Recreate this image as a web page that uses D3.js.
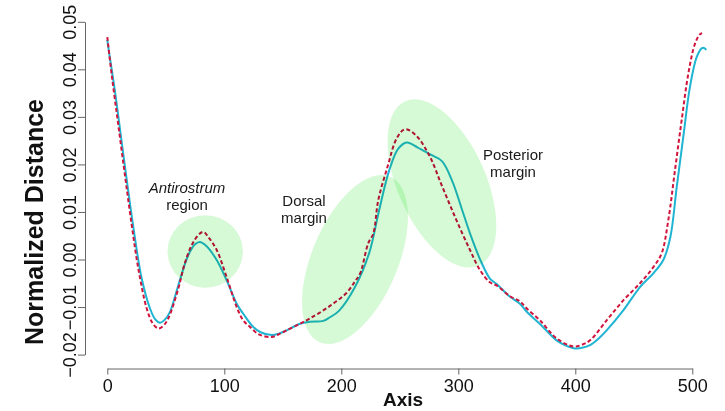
<!DOCTYPE html>
<html>
<head>
<meta charset="utf-8">
<script src="https://cdn.jsdelivr.net/npm/d3@7"></script>
<style>
  body { margin: 0; background: #fff; }
  svg text { font-family: "Liberation Sans", Arial, Helvetica, sans-serif; }
</style>
</head>
<body>
<svg id="chart" width="725" height="411"></svg>
<script>
// Solid (cyan) outline profile: axis position, normalized distance
const solidX = [0, 1, 6.6, 12.3, 18, 23.7, 29.4, 36.5, 41, 45, 49, 53.6, 60.7, 69.2, 75, 79, 84, 93.5, 102, 110.6,
  116.2, 124.8, 131, 140.5, 147.6, 153.3, 164.7, 173.2, 184.6, 190, 198, 211.7, 224, 232, 241, 248.7, 255.9, 265,
  276, 286, 295, 302.5, 311, 318.5, 327, 333, 344, 352.7, 358.5, 370, 384, 392, 400, 406.8, 412.6, 420, 426.8,
  441, 455.3, 466.7, 475.2, 481.3, 486.7, 492.3, 498, 503.8, 508, 510, 512];
const solidY = [0.0462, 0.0444, 0.0353, 0.0247, 0.0142, 0.0044, -0.0040, -0.0103, -0.0126, -0.0133, -0.0127, -0.0110,
  -0.0054, 0.0009, 0.0032, 0.0037, 0.0030, -0.0001, -0.0044, -0.0093, -0.0114, -0.0142, -0.0153, -0.0159, -0.0155,
  -0.0149, -0.0135, -0.0131, -0.0129, -0.0122, -0.0108, -0.0058, 0.0015, 0.0100, 0.0188, 0.0233, 0.0246, 0.0236,
  0.0221, 0.0207, 0.0164, 0.0110, 0.0048, 0.0001, -0.0040, -0.0052, -0.0078, -0.0093, -0.0110, -0.0136, -0.0170,
  -0.0181, -0.0187, -0.0185, -0.0180, -0.0166, -0.0149, -0.0107, -0.0058, -0.0029, -0.0001, 0.0048, 0.0153, 0.0258,
  0.0363, 0.0426, 0.0444, 0.0445, 0.0441];

// Dashed (red) outline profile
const dashX = [0, 3.8, 9.4, 15.1, 20.9, 26.5, 33.7, 39, 43.6, 48, 52.1, 60.7, 66, 72.1, 78, 82.1, 87, 93.5, 102,
  110.6, 116.2, 122, 130, 140.5, 147.6, 153.3, 164.7, 173.2, 184.6, 194.6, 204.6, 211.7, 216, 223, 227.4, 231.6,
  239.5, 247.4, 254.4, 263.5, 275, 286, 298, 310, 318.5, 327, 333, 344, 352.7, 358.5, 369.8, 384.1, 398.3, 405,
  412.6, 426.8, 441, 455.3, 466.7, 473.8, 479.5, 485.2, 490.9, 496.6, 502.3, 506.6, 508.4];
const dashY = [0.0468, 0.0388, 0.0283, 0.0177, 0.0072, -0.0019, -0.0103, -0.0135, -0.0145, -0.0139, -0.0124, -0.0061,
  -0.0010, 0.0030, 0.0052, 0.0058, 0.0045, 0.0020, -0.0037, -0.0100, -0.0128, -0.0142, -0.0158, -0.0163, -0.0156,
  -0.0149, -0.0135, -0.0124, -0.0107, -0.0090, -0.0070, -0.0046, -0.0030, 0.0034, 0.0055, 0.0125, 0.0195, 0.0255,
  0.0274, 0.0262, 0.0220, 0.0155, 0.0085, 0.0020, -0.0022, -0.0048, -0.0055, -0.0077, -0.0088, -0.0103, -0.0128,
  -0.0166, -0.0183, -0.0180, -0.0170, -0.0128, -0.0086, -0.0050, -0.0016, 0.0013, 0.0083, 0.0188, 0.0293, 0.0391,
  0.0454, 0.0474, 0.0476];

// Axis ticks
const xTicks = [0, 100, 200, 300, 400, 500];
const yTicks = [-0.02, -0.01, 0.00, 0.01, 0.02, 0.03, 0.04, 0.05];

// Highlighted regions (centre in data units)
const regionNames = ["Antirostrum", "Dorsal", "Posterior"];
const regionX = [83.7, 211.7, 286];
const regionY = [0.0017, 0.0000, 0.0160];

const svg = d3.select("#chart");

const x = d3.scaleLinear().domain([0, 500]).range([107.3, 692.3]);
const y = d3.scaleLinear().domain([-0.02, 0.05]).range([354.6, 21.8]);

const solid = solidX.map((d, i) => ({ x: d, y: solidY[i] }));
const dashed = dashX.map((d, i) => ({ x: d, y: dashY[i] }));

const line = d3.line()
    .x(d => x(d.x))
    .y(d => y(d.y))
    .curve(d3.curveCatmullRom.alpha(0.5));

// x axis
const xAxis = svg.append("g")
    .attr("transform", "translate(0,368.5)")
    .call(d3.axisBottom(x).tickValues(xTicks).tickSize(6).tickSizeOuter(0).tickFormat(d3.format("d")));
xAxis.selectAll("text")
    .attr("y", 11)
    .attr("dy", "0.71em")
    .attr("fill", "#111")
    .style("font-size", "18px");

// y axis
const yAxis = svg.append("g")
    .attr("transform", "translate(85,0)")
    .call(d3.axisLeft(y).tickValues(yTicks).tickSize(7).tickSizeOuter(0).tickFormat(d3.format(".2f")));
yAxis.selectAll("text")
    .attr("x", null)
    .attr("dy", null)
    .attr("text-anchor", "middle")
    .attr("transform", "translate(-9,0) rotate(-90)")
    .attr("fill", "#111")
    .style("font-size", "18px");

svg.selectAll(".domain, .tick line").attr("stroke", "#666");

// axis titles
svg.append("text")
    .attr("x", 403)
    .attr("y", 406)
    .attr("text-anchor", "middle")
    .attr("font-weight", "bold")
    .attr("fill", "#111")
    .style("font-size", "19px")
    .text("Axis");

svg.append("text")
    .attr("transform", "translate(43,222) rotate(-90)")
    .attr("text-anchor", "middle")
    .attr("font-weight", "bold")
    .attr("fill", "#111")
    .style("font-size", "25px")
    .text("Normalized Distance");

// curves
svg.append("path")
    .datum(solid)
    .attr("fill", "none")
    .attr("stroke", "#1fb4d2")
    .attr("stroke-width", 2)
    .attr("d", line);

svg.append("path")
    .datum(dashed)
    .attr("fill", "none")
    .attr("stroke", "#d0143c")
    .attr("stroke-width", 2)
    .attr("stroke-dasharray", "4,2.5")
    .attr("d", line);

// highlighted regions, drawn over the curves
const ellipseRx = [37.7, 43, 44];
const ellipseRy = [36.3, 90, 90];
const ellipseRot = [0, 23, -24];

svg.selectAll("ellipse.region")
    .data(regionNames)
    .enter()
    .append("ellipse")
    .attr("class", "region")
    .attr("transform", (d, i) => `translate(${x(regionX[i])},${y(regionY[i])}) rotate(${ellipseRot[i]})`)
    .attr("rx", (d, i) => ellipseRx[i])
    .attr("ry", (d, i) => ellipseRy[i])
    .attr("fill", "#d6fad6")
    .style("mix-blend-mode", "multiply");

// annotations
function note(px, py, lines, italicFirst) {
    const t = svg.append("text")
        .attr("text-anchor", "middle")
        .attr("fill", "#1a1a1a")
        .style("font-size", "15px");
    lines.forEach((s, i) => {
        t.append("tspan")
            .attr("x", px)
            .attr("y", py + i * 17)
            .style("font-style", i === 0 && italicFirst ? "italic" : "normal")
            .text(s);
    });
}
note(187, 193, ["Antirostrum", "region"], true);
note(304, 206, ["Dorsal", "margin"], false);
note(513, 160, ["Posterior", "margin"], false);
</script>
</body>
</html>
